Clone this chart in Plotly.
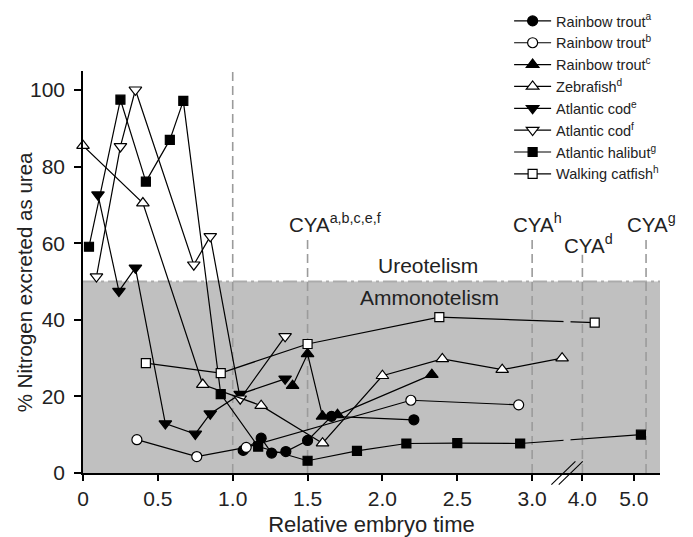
import plotly.graph_objects as go

# ---------------- data (x = relative embryo time, y = % N excreted as urea) ----------
trout_a_x = [1.07, 1.19, 1.26, 1.355, 1.50, 1.66, 2.21]
trout_a_y = [5.9, 9.1, 5.2, 5.6, 8.5, 14.8, 13.9]

trout_b_x = [0.36, 0.76, 1.09, 2.19, 2.91]
trout_b_y = [8.7, 4.3, 6.7, 19.0, 17.8]

trout_c_x = [1.40, 1.50, 1.60, 1.70, 2.33]
trout_c_y = [22.8, 31.1, 14.8, 15.2, 25.7]

zebra_x = [0.0, 0.40, 0.80, 1.19, 1.60, 2.00, 2.40, 2.80, 3.20]
zebra_y = [85.5, 70.5, 23.1, 17.6, 7.8, 25.4, 29.8, 27.0, 30.0]

cod_e_x = [0.10, 0.24, 0.35, 0.55, 0.75, 0.85, 1.05, 1.35]
cod_e_y = [72.7, 47.5, 53.6, 12.9, 10.2, 15.5, 20.6, 24.6]

cod_f_x = [0.09, 0.25, 0.35, 0.74, 0.85, 1.05, 1.35]
cod_f_y = [51.3, 85.3, 100.1, 54.4, 61.8, 19.4, 35.7]

halibut_x = [0.04, 0.25, 0.42, 0.58, 0.67, 0.92, 1.17, 1.50, 1.83, 2.16, 2.50, 2.92, 5.14]
halibut_y = [59.1, 97.5, 76.1, 87.0, 97.2, 20.6, 6.9, 3.2, 5.8, 7.7, 7.8, 7.7, 10.0]

catfish_x = [0.42, 0.92, 1.50, 2.38, 4.24]
catfish_y = [28.7, 26.1, 33.7, 40.7, 39.3]

tick_vals = [0, 0.5, 1.0, 1.5, 2.0, 2.5, 3.0, 4.0, 5.0]
tick_text = ["0", "0.5", "1.0", "1.5", "2.0", "2.5", "3.0", "4.0", "5.0"]

# reference lines: (x, top of line, label)
hatching_x = 1.0
cya_x = [1.5, 3.0, 4.0, 5.24]
cya_top = [61.4, 61.6, 57.0, 61.6]
cya_sup = ["a,b,c,e,f", "h", "d", "g"]
cya_label_y = [65.3, 65.3, 59.7, 65.3]

# ---------------- broken x axis mapping ----------------
U4 = 3.3356          # plot position of x = 4.0
POST = 0.3429        # compression after the break
X_MAX = 3.854


def xu(x):
    return x if x < 3.5 else U4 + (x - 4.0) * POST


def xs(lst):
    return [xu(v) for v in lst]


BREAK_C = 3.233
FONT = "Liberation Sans, Arial, sans-serif"
TXT = "#222222"
DASH_C = "#9b9b9b"

fig = go.Figure()


def add_series(name, x, y, symbol, fill, size, rank):
    fig.add_trace(go.Scatter(
        x=xs(x), y=y, mode="lines+markers", name=name, legendrank=rank,
        line=dict(color="black", width=1.2),
        marker=dict(symbol=symbol, size=size, color=fill,
                    line=dict(color="black", width=1.2)),
        cliponaxis=False,
    ))


add_series("Rainbow trout<sup>c</sup>", trout_c_x, trout_c_y, "triangle-up", "black", 11, 3)
add_series("Atlantic cod<sup>e</sup>", cod_e_x, cod_e_y, "triangle-down", "black", 11, 5)
add_series("Atlantic cod<sup>f</sup>", cod_f_x, cod_f_y, "triangle-down", "white", 11, 6)
add_series("Atlantic halibut<sup>g</sup>", halibut_x, halibut_y, "square", "black", 9, 7)
add_series("Walking catfish<sup>h</sup>", catfish_x, catfish_y, "square", "white", 9, 8)

# gap in the lines at the axis break
fig.add_trace(go.Scatter(x=[BREAK_C, BREAK_C], y=[0.5, 46], mode="lines",
                         line=dict(color="#c0c0c0", width=7), showlegend=False,
                         hoverinfo="skip"))

add_series("Zebrafish<sup>d</sup>", zebra_x, zebra_y, "triangle-up", "white", 11, 4)
add_series("Rainbow trout<sup>a</sup>", trout_a_x, trout_a_y, "circle", "black", 10, 1)
add_series("Rainbow trout<sup>b</sup>", trout_b_x, trout_b_y, "circle", "white", 10, 2)

shapes = []
# ammonotelism region
shapes.append(dict(type="rect", xref="x", yref="y", x0=0, x1=X_MAX, y0=0, y1=50,
                   fillcolor="#c0c0c0", line=dict(width=0), layer="below"))
shapes.append(dict(type="line", xref="x", yref="y", x0=0, x1=X_MAX, y0=50, y1=50,
                   line=dict(color="#ababab", width=2, dash="14px,4px,3px,4px"),
                   layer="below"))
# hatching
shapes.append(dict(type="line", xref="x", yref="y", x0=xu(hatching_x), x1=xu(hatching_x),
                   y0=0, y1=105, line=dict(color=DASH_C, width=1.6, dash="9px,5px"),
                   layer="below"))
for cx, top in zip(cya_x, cya_top):
    shapes.append(dict(type="line", xref="x", yref="y", x0=xu(cx), x1=xu(cx),
                       y0=0, y1=top, line=dict(color=DASH_C, width=1.6, dash="9px,5px"),
                       layer="below"))
# axis break marks (paper coords)
for off in [0.0, 0.0127]:
    shapes.append(dict(type="line", xref="paper", yref="paper",
                       x0=0.8118 + off, x1=0.8534 + off, y0=-0.029, y1=0.029,
                       line=dict(color="black", width=1.1)))

annotations = [
    dict(x=xu(hatching_x), y=109.6, xref="x", yref="y", text="Hatching",
         showarrow=False, font=dict(size=21, color=TXT, family=FONT)),
    dict(x=2.304, y=54.2, xref="x", yref="y", text="Ureotelism",
         showarrow=False, font=dict(size=21, color=TXT, family=FONT)),
    dict(x=2.313, y=45.8, xref="x", yref="y", text="Ammonotelism",
         showarrow=False, font=dict(size=21, color=TXT, family=FONT)),
    # y-axis title
    dict(x=-0.1023, y=0.4743, xref="paper", yref="paper", textangle=-90,
         text="% Nitrogen excreted as urea", showarrow=False,
         xanchor="center", yanchor="middle",
         font=dict(size=20.5, color=TXT, family=FONT)),
]
for cx, ly, sup in zip(cya_x, cya_label_y, cya_sup):
    annotations.append(dict(x=xu(cx), y=ly, xref="x", yref="y",
                            text="CYA<sup>" + sup + "</sup>", showarrow=False,
                            xanchor="left", xshift=-20.8,
                            font=dict(size=20.5, color=TXT, family=FONT)))

fig.update_layout(
    width=693, height=537,
    margin=dict(l=83, r=33, t=71, b=64, autoexpand=False),
    plot_bgcolor="white", paper_bgcolor="white",
    font=dict(family=FONT, color=TXT, size=20),
    shapes=shapes, annotations=annotations,
    showlegend=True,
    legend=dict(x=0.7385, y=1.1643, xanchor="left", yanchor="top",
                bgcolor="rgba(0,0,0,0)", traceorder="normal", itemwidth=37,
                font=dict(size=14.5, color=TXT, family=FONT)),
    xaxis=dict(range=[0, X_MAX], tickvals=xs(tick_vals), ticktext=tick_text,
               showgrid=False, zeroline=False, showline=True, linecolor="black",
               linewidth=1.5, ticks="outside", ticklen=6, tickwidth=1.5,
               tickcolor="black", tickfont=dict(size=21, color=TXT),
               title=dict(text="Relative embryo time", font=dict(size=22, color=TXT),
                          standoff=10)),
    yaxis=dict(range=[0, 105], tickvals=[0, 20, 40, 60, 80, 100],
               showgrid=False, zeroline=False, showline=True, linecolor="black",
               linewidth=1.5, ticks="outside", ticklen=7, tickwidth=1.5,
               tickcolor="black", tickfont=dict(size=21, color=TXT),
               ticklabelstandoff=5),
)

fig.write_html("out.html", config={"displayModeBar": False},
               post_script="document.body.style.margin='0';"
                           "document.body.style.overflow='hidden';")
